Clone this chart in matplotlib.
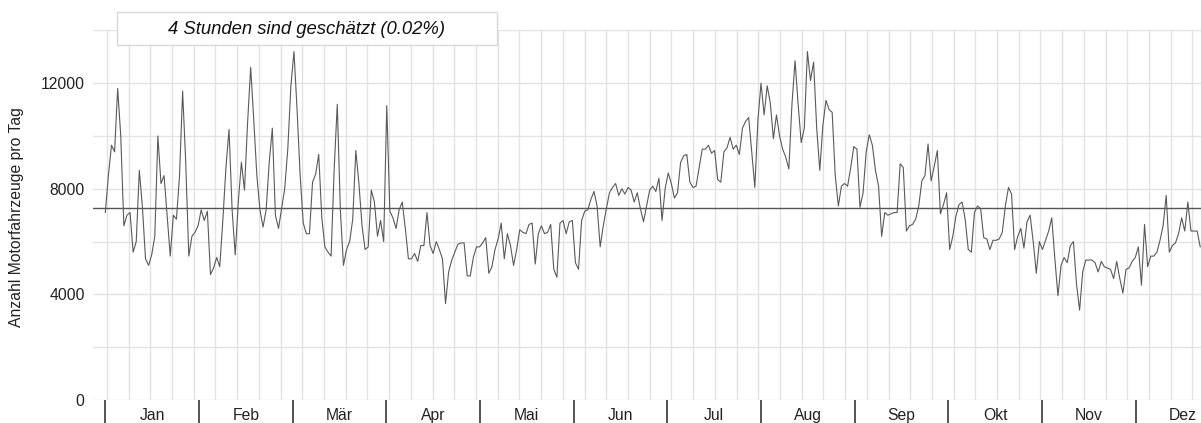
import matplotlib.pyplot as plt
import numpy as np
from matplotlib.patches import Rectangle

# Tageswerte (Motorfahrzeuge pro Tag), ab 1. Januar
werte = [
    7100, 8500, 9650, 9400, 11800, 10000, 6600, 7000, 7100, 5600,
    6000, 8700, 7300, 5350, 5100, 5500, 6200, 10000, 8200, 8500,
    7000, 5450, 7000, 6850, 8500, 11700, 9000, 5450, 6200, 6350,
    6600, 7200, 6800, 7150, 4750, 5000, 5400, 5050, 6800, 8800,
    10250, 7200, 5500, 7500, 9000, 7950, 10500, 12600, 10600, 8500,
    7200, 6550, 7200, 9000, 10300, 7000, 6500, 7250, 8000, 9500,
    11900, 13200, 11000, 8500, 6700, 6300, 6300, 8250, 8550, 9300,
    6900, 5800, 5600, 5450, 8750, 11200, 7200, 5100, 5700, 6000,
    6850, 9450, 8200, 6600, 5700, 5800, 7950, 7500, 6200, 6800,
    6000, 11150, 7150, 6900, 6500, 7200, 7500, 6500, 5350, 5350,
    5550, 5250, 5850, 5850, 7100, 5850, 5550, 6000, 5700, 5350,
    3650, 4850, 5300, 5600, 5900, 5950, 5950, 4700, 4700, 5400,
    5800, 5800, 5950, 6150, 4800, 5050, 5700, 6100, 6700, 5350,
    6300, 5850, 5100, 5700, 6450, 6350, 6300, 6650, 6700, 5150,
    6300, 6600, 6300, 6350, 6650, 4950, 4650, 6700, 6800, 6300,
    6750, 6800, 5200, 4950, 6800, 7150, 7200, 7600, 7900, 7350,
    5800, 6600, 7250, 7850, 8050, 8200, 7750, 8000, 7800, 8050,
    7950, 7500, 7850, 7250, 6750, 7350, 7950, 8100, 7900, 8400,
    6800, 8000, 8600, 8200, 7650, 7850, 9000, 9250, 9300, 8250,
    8050, 8100, 8800, 9500, 9500, 9650, 9350, 9450, 8350, 8250,
    9400, 9550, 9950, 9500, 9650, 9300, 10300, 10550, 10700, 9400,
    8050, 10600, 12000, 10800, 11900, 11250, 9900, 10800, 10000, 9500,
    9200, 8750, 11200, 12850, 11200, 9750, 10300, 13200, 12100, 12800,
    10300, 8700, 10400, 11350, 11000, 10900, 8500, 7350, 8100, 8200,
    8100, 8800, 9600, 9500, 7300, 7850, 9400, 10050, 9650, 8700,
    8100, 6200, 7100, 7000, 7050, 7100, 7100, 8950, 8800, 6400,
    6600, 6650, 6850, 7350, 8300, 8500, 9700, 8300, 8850, 9450,
    7050, 7400, 7850, 5700, 6200, 6950, 7400, 7500, 6850, 5700,
    5600, 7100, 7350, 7250, 6150, 6100, 5700, 6050, 6050, 6100,
    6350, 7350, 8050, 7800, 5700, 6200, 6500, 5750, 6750, 7000,
    6000, 4800, 6000, 5700, 6050, 6400, 6900, 5350, 3950, 5100,
    5400, 5200, 5850, 6000, 4400, 3400, 4850, 5300, 5300, 5300,
    5200, 4850, 5250, 5050, 5000, 4950, 4600, 5250, 4600, 4050,
    4950, 5000, 5250, 5400, 5800, 4350, 6650, 5050, 5450, 5450,
    5600, 6050, 6600, 7750, 5600, 5850, 5950, 6300, 6900, 6400,
    7500, 6400, 6400, 6400, 5800,
]

monate = ['Jan', 'Feb', 'Mär', 'Apr', 'Mai', 'Jun',
          'Jul', 'Aug', 'Sep', 'Okt', 'Nov', 'Dez']

mittelwert = 7280
hinweis = '4 Stunden sind geschätzt (0.02%)'
y_titel = 'Anzahl Motorfahrzeuge pro Tag'

plt.rcParams['font.family'] = ['Liberation Sans', 'DejaVu Sans']

W, H = 1201, 423
fig = plt.figure(figsize=(W / 100, H / 100), dpi=100)
ax = fig.add_axes([93 / W, 23 / H, (W - 93) / W, 369.6 / H])

tage = np.arange(len(werte))

# Skala: Pixel pro Tag und Monatsbreite (Monate sind gleich breit)
px_tag = 3.093
monat = 30.28
ax.set_xlim((93 - 105.3) / px_tag, (W - 105.3) / px_tag)
ax.set_ylim(0, 14000)

# Wochen-Gitter
for w in np.arange(0.5, 360, 7.02):
    ax.axvline(w, color='#e3e3e3', lw=1, zorder=0)

ax.set_yticks(np.arange(0, 14001, 2000))
ax.set_yticklabels([str(v) if v % 4000 == 0 else '' for v in range(0, 14001, 2000)])
ax.grid(axis='y', color='#e3e3e3', lw=1, zorder=0)
ax.set_axisbelow(True)

# Mittelwert und Tageswerte
ax.axhline(mittelwert, color='#555555', lw=1, zorder=2)
ax.plot(tage, werte, color='#5a5a5a', lw=0.8, zorder=3)

# Monatsgrenzen als lange Striche, Namen dazwischen
grenzen = np.arange(12) * monat
ax.set_xticks(grenzen)
ax.set_xticks(grenzen + monat / 2, minor=True)
ax.set_xticklabels([], minor=False)
ax.set_xticklabels(monate, minor=True)
ax.tick_params(axis='x', which='major', length=17, width=1.3, color='#444444')
ax.tick_params(axis='x', which='minor', length=0, pad=5.5, labelsize=11.3, labelcolor='#222222')
ax.tick_params(axis='y', length=0, pad=6, labelsize=11.3, labelcolor='#222222')

for s in ax.spines.values():
    s.set_visible(False)

fig.text(17 / W, 1 - 217 / H, y_titel, rotation=90, ha='center', va='center',
         fontsize=11.3, color='#222222')

# Hinweis-Kasten oben
fig.add_artist(Rectangle((117 / W, 1 - 45 / H), 380 / W, 33 / H,
                         transform=fig.transFigure, facecolor='white',
                         edgecolor='#d9d9d9', lw=1, zorder=5))
fig.text(307 / W, 1 - 29 / H, hinweis, ha='center', va='center',
         style='italic', fontsize=13.3, color='#111111', zorder=6)

fig.savefig('out.png', dpi=100)
